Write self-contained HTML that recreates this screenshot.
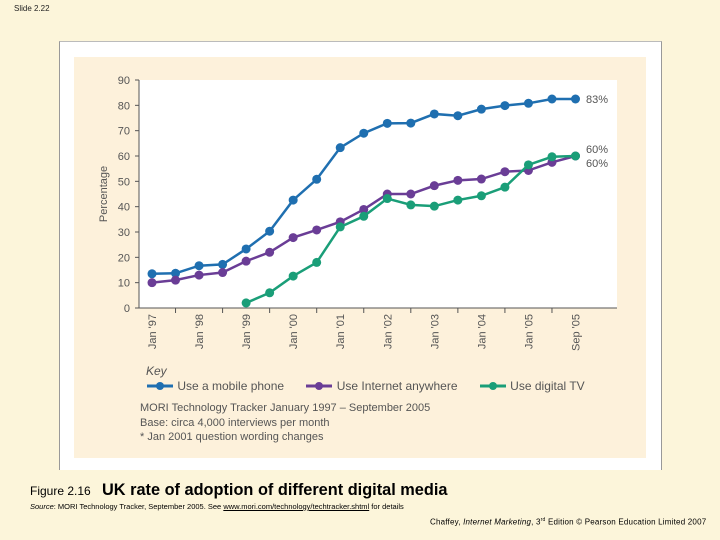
<!DOCTYPE html>
<html><head><meta charset="utf-8">
<style>
body{margin:0;width:720px;height:540px;background:#fcf5da;font-family:"Liberation Sans",sans-serif;position:relative;overflow:hidden}
.abs{position:absolute}
</style></head>
<body>
<div class="abs" style="left:14px;top:4px;font-size:8px;color:#222">Slide 2.22</div>
<div class="abs" style="left:59px;top:41px;width:601px;height:428px;background:#fff;border-left:1px solid #999;border-right:1px solid #999;border-top:1px solid #bbb"></div>
<div class="abs" style="left:74px;top:57px;width:572px;height:401px;background:#fdf1db"></div>
<svg class="abs" style="left:0;top:0" width="720" height="540">
<rect x="139" y="80" width="478" height="228" fill="#fff"/>
<g id="axes"></g><g id="series"></g>
<text x="107" y="194" transform="rotate(-90 107 194)" text-anchor="middle" font-size="11" fill="#555" font-family="Liberation Sans">Percentage</text>
</svg>
<div class="abs" style="left:146px;top:364px;font-size:12px;font-style:italic;color:#555">Key</div>
<div class="abs" style="left:146px;top:379px;font-size:12px;color:#555;white-space:nowrap">
<span><svg width="28" height="10" style="vertical-align:-1px"><line x1="1" y1="5" x2="27" y2="5" stroke="#1f6fb0" stroke-width="3"/><circle cx="14" cy="5" r="4" fill="#1f6fb0"/></svg> Use a mobile phone</span>
<span style="margin-left:18px"><svg width="28" height="10" style="vertical-align:-1px"><line x1="1" y1="5" x2="27" y2="5" stroke="#6a3d96" stroke-width="3"/><circle cx="14" cy="5" r="4" fill="#6a3d96"/></svg> Use Internet anywhere</span>
<span style="margin-left:18px"><svg width="28" height="10" style="vertical-align:-1px"><line x1="1" y1="5" x2="27" y2="5" stroke="#1a9e78" stroke-width="3"/><circle cx="14" cy="5" r="4" fill="#1a9e78"/></svg> Use digital TV</span>
</div>
<div class="abs" style="left:140px;top:401px;font-size:11px;color:#555;line-height:14.5px">MORI Technology Tracker January 1997 – September 2005<br>Base: circa 4,000 interviews per month<br>* Jan 2001 question wording changes</div>
<div class="abs" style="left:30px;top:480px;white-space:nowrap"><span style="font-size:12px">Figure 2.16 </span><span style="display:inline-block;font-size:17px;font-weight:bold;margin-left:8px;transform:scaleX(0.96);transform-origin:left">UK rate of adoption of different digital media</span></div>
<div class="abs" style="left:30px;top:502px;font-size:7.5px;white-space:nowrap"><i>Source</i>: MORI Technology Tracker, September 2005. See <u>www.mori.com/technology/techtracker.shtml</u> for details</div>
<div class="abs" style="left:430px;top:517px;font-size:8px;letter-spacing:0.2px;white-space:nowrap">Chaffey, <i>Internet Marketing</i>, 3<sup style="font-size:5px">rd</sup> Edition © Pearson Education Limited 2007</div>
<script>
const categories=["Jan '97","","Jan '98","","Jan '99","","Jan '00","","Jan '01","","Jan '02","","Jan '03","","Jan '04","","Jan '05","","Sep '05"];
const mobile=[13.5,13.7,16.7,17.2,23.3,30.3,42.6,50.8,63.3,69,72.9,73,76.6,75.9,78.5,79.9,80.8,82.5,82.5];
const internet=[10,11,13,14,18.5,22,27.8,30.8,34,38.9,45,45,48.3,50.4,50.9,53.8,54.3,57.5,60];
const tv=[null,null,null,null,2,6,12.6,18,32,36.2,43.2,40.7,40.2,42.6,44.3,47.7,56.5,59.7,60];
const yTicks=[0,10,20,30,40,50,60,70,80,90];
const endLabels=["83%","60%","60%"];
const NS="http://www.w3.org/2000/svg";
const X=i=>152+i*(575.5-152)/(categories.length-1);
const Y=v=>308-v*(228/90);
function mk(t,a,p){const e=document.createElementNS(NS,t);for(const k in a)e.setAttribute(k,a[k]);p.appendChild(e);return e;}
const ax=document.getElementById('axes');
let l=mk('line',{x1:139,y1:80,x2:139,y2:308,stroke:'#555','stroke-width':1},ax);

l=mk('line',{x1:139,y1:308,x2:617,y2:308,stroke:'#555','stroke-width':1},ax);

yTicks.forEach(v=>{mk('line',{x1:135,x2:139,y1:Y(v),y2:Y(v),stroke:'#555'},ax);
const t=mk('text',{x:130,y:Y(v)+4,'text-anchor':'end','font-size':11,fill:'#555','font-family':'Liberation Sans'},ax);t.textContent=v;
});
categories.forEach((c,i)=>{
if(i%2===1){mk('line',{x1:X(i),x2:X(i),y1:308,y2:313,stroke:'#555'},ax);}
if(c){const t=mk('text',{x:X(i)+4,y:314,'text-anchor':'end','font-size':11,fill:'#555','font-family':'Liberation Sans',transform:`rotate(-90 ${X(i)+4} 314)`},ax);t.textContent=c;
}});
const sg=document.getElementById('series');
[[mobile,'#1f6fb0','mobile'],[internet,'#6a3d96','internet'],[tv,'#1a9e78','tv']].forEach(([d,col,n])=>{
let pts=d.map((v,i)=>v==null?null:X(i)+','+Y(v)).filter(p=>p);
const pl=mk('polyline',{points:pts.join(' '),fill:'none',stroke:col,'stroke-width':2.5},sg);

d.forEach((v,i)=>{if(v==null)return;const c=mk('circle',{cx:X(i),cy:Y(v),r:4.5,fill:col},sg);
});});
[[mobile,endLabels[0],0],[tv,endLabels[1],-7],[internet,endLabels[2],7]].forEach(([d,s,o])=>{
const t=mk('text',{x:586,y:Y(d[d.length-1])+4+o,'font-size':11,fill:'#555','font-family':'Liberation Sans'},sg);t.textContent=s;
});
</script>
</body></html>
